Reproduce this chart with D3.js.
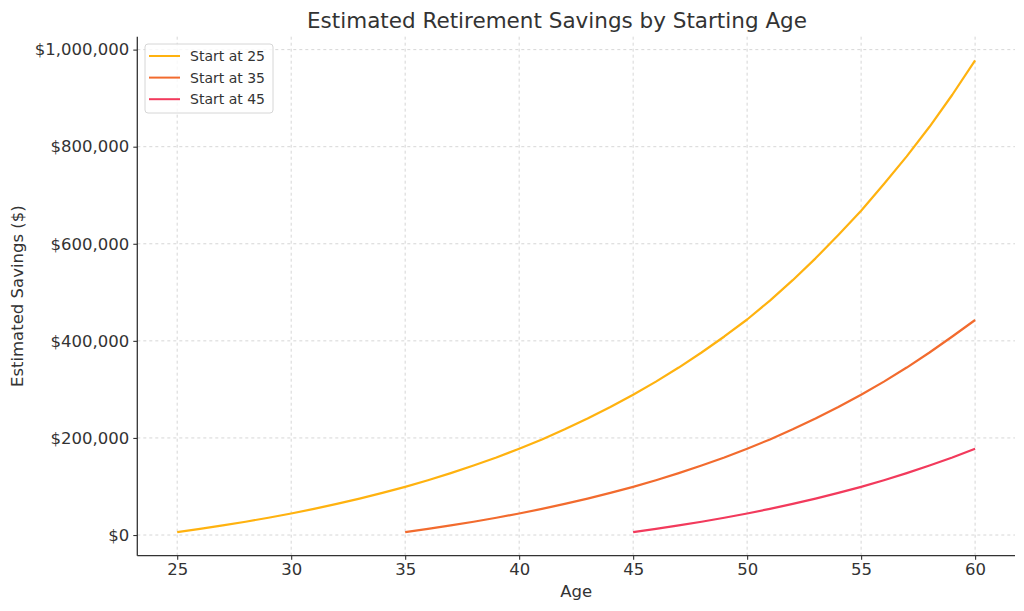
<!DOCTYPE html>
<html lang="en">
<head>
<meta charset="utf-8">
<title>Estimated Retirement Savings by Starting Age</title>
<script src="https://d3js.org/d3.v7.min.js"></script>
<style>
  body { margin: 0; background: #fff; }
  text { font-family: "DejaVu Sans", sans-serif; fill: #333; }
</style>
</head>
<body>
<script>
// canvas
const SvgWidth = 1024
const SvgHeight = 611
const plot = {left: 137.3, right: 1015, top: 36.7, bottom: 555.7}

// data
const ages25 = [25,26,27,28,29,30,31,32,33,34,35,36,37,38,39,40,41,42,43,44,45,46,47,48,49,50,51,52,53,54,55,56,57,58,59,60]
const savings25 = [6000,12600,19700,27400,35600,44400,53900,64100,75000,86700,99300,112900,127500,143100,159800,177700,197000,217700,239900,263700,289000,316000,345000,376000,409000,444000,483000,525000,570000,618000,668000,723000,780000,841000,907000,978000]

const ages35 = [35,36,37,38,39,40,41,42,43,44,45,46,47,48,49,50,51,52,53,54,55,56,57,58,59,60]
const savings35 = [6000,12600,19700,27400,35600,44400,53900,64100,75000,86700,99300,112900,127500,143100,159800,177700,197000,217700,239900,263700,289000,316000,345000,376000,409000,443000]

const ages45 = [45,46,47,48,49,50,51,52,53,54,55,56,57,58,59,60]
const savings45 = [6000,12600,19700,27400,35600,44400,53900,64100,75000,86700,99300,112900,127500,143100,159800,177700]

const seriesNames = ["Start at 25", "Start at 35", "Start at 45"]
const seriesColors = ["#FFB20F", "#F26B2E", "#F23A5C"]
const xTicks = [25, 30, 35, 40, 45, 50, 55, 60]
const yTicks = [0, 200000, 400000, 600000, 800000, 1000000]

const series = [
  {name: seriesNames[0], color: seriesColors[0], ages: ages25, values: savings25},
  {name: seriesNames[1], color: seriesColors[1], ages: ages35, values: savings35},
  {name: seriesNames[2], color: seriesColors[2], ages: ages45, values: savings45}
]

// matplotlib style 5% margins
const allAges = ages25.concat(ages35, ages45)
const allVals = savings25.concat(savings35, savings45)
const xExt = d3.extent(allAges), yExt = d3.extent(allVals)
const xPad = (xExt[1] - xExt[0]) * 0.05, yPad = (yExt[1] - yExt[0]) * 0.05

const xScale = d3.scaleLinear().domain([xExt[0] - xPad, xExt[1] + xPad]).range([plot.left, plot.right])
const yScale = d3.scaleLinear().domain([yExt[0] - yPad, yExt[1] + yPad]).range([plot.bottom, plot.top])

var svg = d3.select("body").append("svg")
            .attr("width", SvgWidth)
            .attr("height", SvgHeight)

svg.append("rect").attr("width", SvgWidth).attr("height", SvgHeight).style("fill", "white")

// grid
var grid = svg.append("g")
grid.selectAll(".vgrid").data(xTicks).enter().append("line")
    .attr("x1", d => xScale(d)).attr("x2", d => xScale(d))
    .attr("y1", plot.top).attr("y2", plot.bottom)
    .attr("stroke", "#cccccc").attr("stroke-width", 0.8).attr("stroke-dasharray", "3,3")
grid.selectAll(".hgrid").data(yTicks).enter().append("line")
    .attr("x1", plot.left).attr("x2", plot.right)
    .attr("y1", d => yScale(d)).attr("y2", d => yScale(d))
    .attr("stroke", "#cccccc").attr("stroke-width", 0.8).attr("stroke-dasharray", "3,3")

// lines
const line = d3.line().x(d => xScale(d[0])).y(d => yScale(d[1]))
svg.selectAll(".series").data(series).enter().append("path")
    .attr("fill", "none")
    .attr("stroke", d => d.color)
    .attr("stroke-width", 2.2)
    .attr("stroke-linejoin", "round")
    .attr("d", d => line(d.ages.map((a, i) => [a, d.values[i]])))

// axes
var xAxis = svg.append("g")
    .attr("transform", "translate(0," + plot.bottom + ")")
    .call(d3.axisBottom(xScale).tickValues(xTicks).tickSize(4).tickPadding(4))
var yAxis = svg.append("g")
    .attr("transform", "translate(" + plot.left + ",0)")
    .call(d3.axisLeft(yScale).tickValues(yTicks).tickSize(4).tickPadding(4)
          .tickFormat(d => "$" + d3.format(",")(d)))

;[xAxis, yAxis].forEach(function(ax){
  ax.select(".domain").attr("stroke", "#333").attr("stroke-width", 1.3)
  ax.selectAll(".tick line").attr("stroke", "#333").attr("stroke-width", 1.1)
  ax.selectAll(".tick text").style("font-family", "DejaVu Sans").style("font-size", "16.5px").attr("fill", "#333")
})
xAxis.select(".domain").attr("d", "M" + plot.left + ",0H" + plot.right)
yAxis.select(".domain").attr("d", "M0," + plot.bottom + "V" + plot.top)

// title and labels
svg.append("text")
    .attr("x", 557).attr("y", 28)
    .attr("text-anchor", "middle")
    .style("font-size", "21.5px")
    .text("Estimated Retirement Savings by Starting Age")

svg.append("text")
    .attr("x", (plot.left + plot.right) / 2).attr("y", 597)
    .attr("text-anchor", "middle")
    .style("font-size", "16.5px")
    .text("Age")

svg.append("text")
    .attr("transform", "translate(23," + (plot.top + plot.bottom) / 2 + ") rotate(-90)")
    .attr("text-anchor", "middle")
    .style("font-size", "16.5px")
    .text("Estimated Savings ($)")

// legend
var legend = svg.append("g").attr("transform", "translate(145,44)")
legend.append("rect")
    .attr("width", 128).attr("height", 69)
    .attr("rx", 3)
    .attr("fill", "white").attr("fill-opacity", 0.8)
    .attr("stroke", "#d6d6d6")
var items = legend.selectAll(".item").data(series).enter().append("g")
    .attr("transform", (d, i) => "translate(0," + (12 + i * 21.6) + ")")
items.append("line")
    .attr("x1", 4).attr("x2", 35).attr("y1", 0).attr("y2", 0)
    .attr("stroke", d => d.color).attr("stroke-width", 2)
items.append("text")
    .attr("x", 45).attr("y", 5)
    .style("font-size", "14px")
    .text(d => d.name)
</script>
</body>
</html>
